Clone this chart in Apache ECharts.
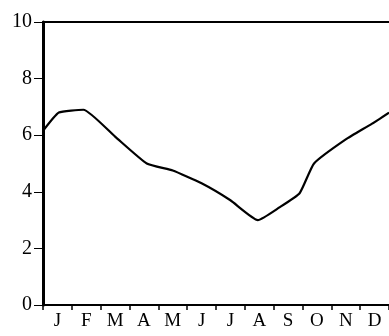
<!DOCTYPE html>
<html>
<head>
<meta charset="utf-8">
<script src="https://cdn.jsdelivr.net/npm/echarts@6/dist/echarts.min.js"></script>
<style>
  html, body { margin: 0; padding: 0; background: #fff; }
  #chart { width: 389px; height: 336px; }
</style>
</head>
<body>
<div id="chart"></div>
<script>
const months = ['J', 'F', 'M', 'A', 'M', 'J', 'J', 'A', 'S', 'O', 'N', 'D']
// position along the year (0 = start of Jan, 12 = end of Dec) and value
const curvePos = [0, 0.55, 1.4, 2.5, 3.6, 4.5, 5.5, 6.5, 7.45, 8.2, 8.9, 9.4, 10.5, 11.4, 12]
const curveVal = [6.15, 6.8, 6.9, 5.95, 5.0, 4.75, 4.3, 3.7, 3.0, 3.45, 3.95, 5.0, 5.85, 6.4, 6.8]
const yTicks = [0, 2, 4, 6, 8, 10]

const font = '"Liberation Serif", "DejaVu Serif", serif'
const chart = echarts.init(document.getElementById('chart'))

const option = {
  animation: false,
  grid: { left: 43, right: 0, top: 22, bottom: 31 },
  xAxis: [
    {
      type: 'category',
      data: months,
      boundaryGap: true,
      axisLine: { lineStyle: { color: '#000', width: 2 } },
      axisTick: { show: true, length: 5, lineStyle: { color: '#000', width: 1.5 } },
      axisLabel: { color: '#000', fontFamily: font, fontSize: 19, margin: 7 },
      splitLine: { show: false }
    },
    {
      type: 'value',
      position: 'top',
      min: 0,
      max: 12,
      axisLine: { show: true, onZero: false, lineStyle: { color: '#000', width: 2 } },
      axisTick: { show: false },
      axisLabel: { show: false },
      splitLine: { show: false }
    }
  ],
  yAxis: {
    type: 'value',
    min: yTicks[0],
    max: yTicks[yTicks.length - 1],
    interval: 2,
    axisLine: { show: true, lineStyle: { color: '#000', width: 3 } },
    axisTick: { show: true, length: 9, lineStyle: { color: '#000', width: 1 } },
    axisLabel: { color: '#000', fontFamily: font, fontSize: 20, margin: 11 },
    splitLine: { show: false }
  },
  series: [
    {
      type: 'line',
      xAxisIndex: 1,
      data: curvePos.map((p, i) => [p, curveVal[i]]),
      smooth: 0.15,
      showSymbol: false,
      lineStyle: { color: '#000', width: 2.2 }
    }
  ]
}

chart.setOption(option)
</script>
</body>
</html>
